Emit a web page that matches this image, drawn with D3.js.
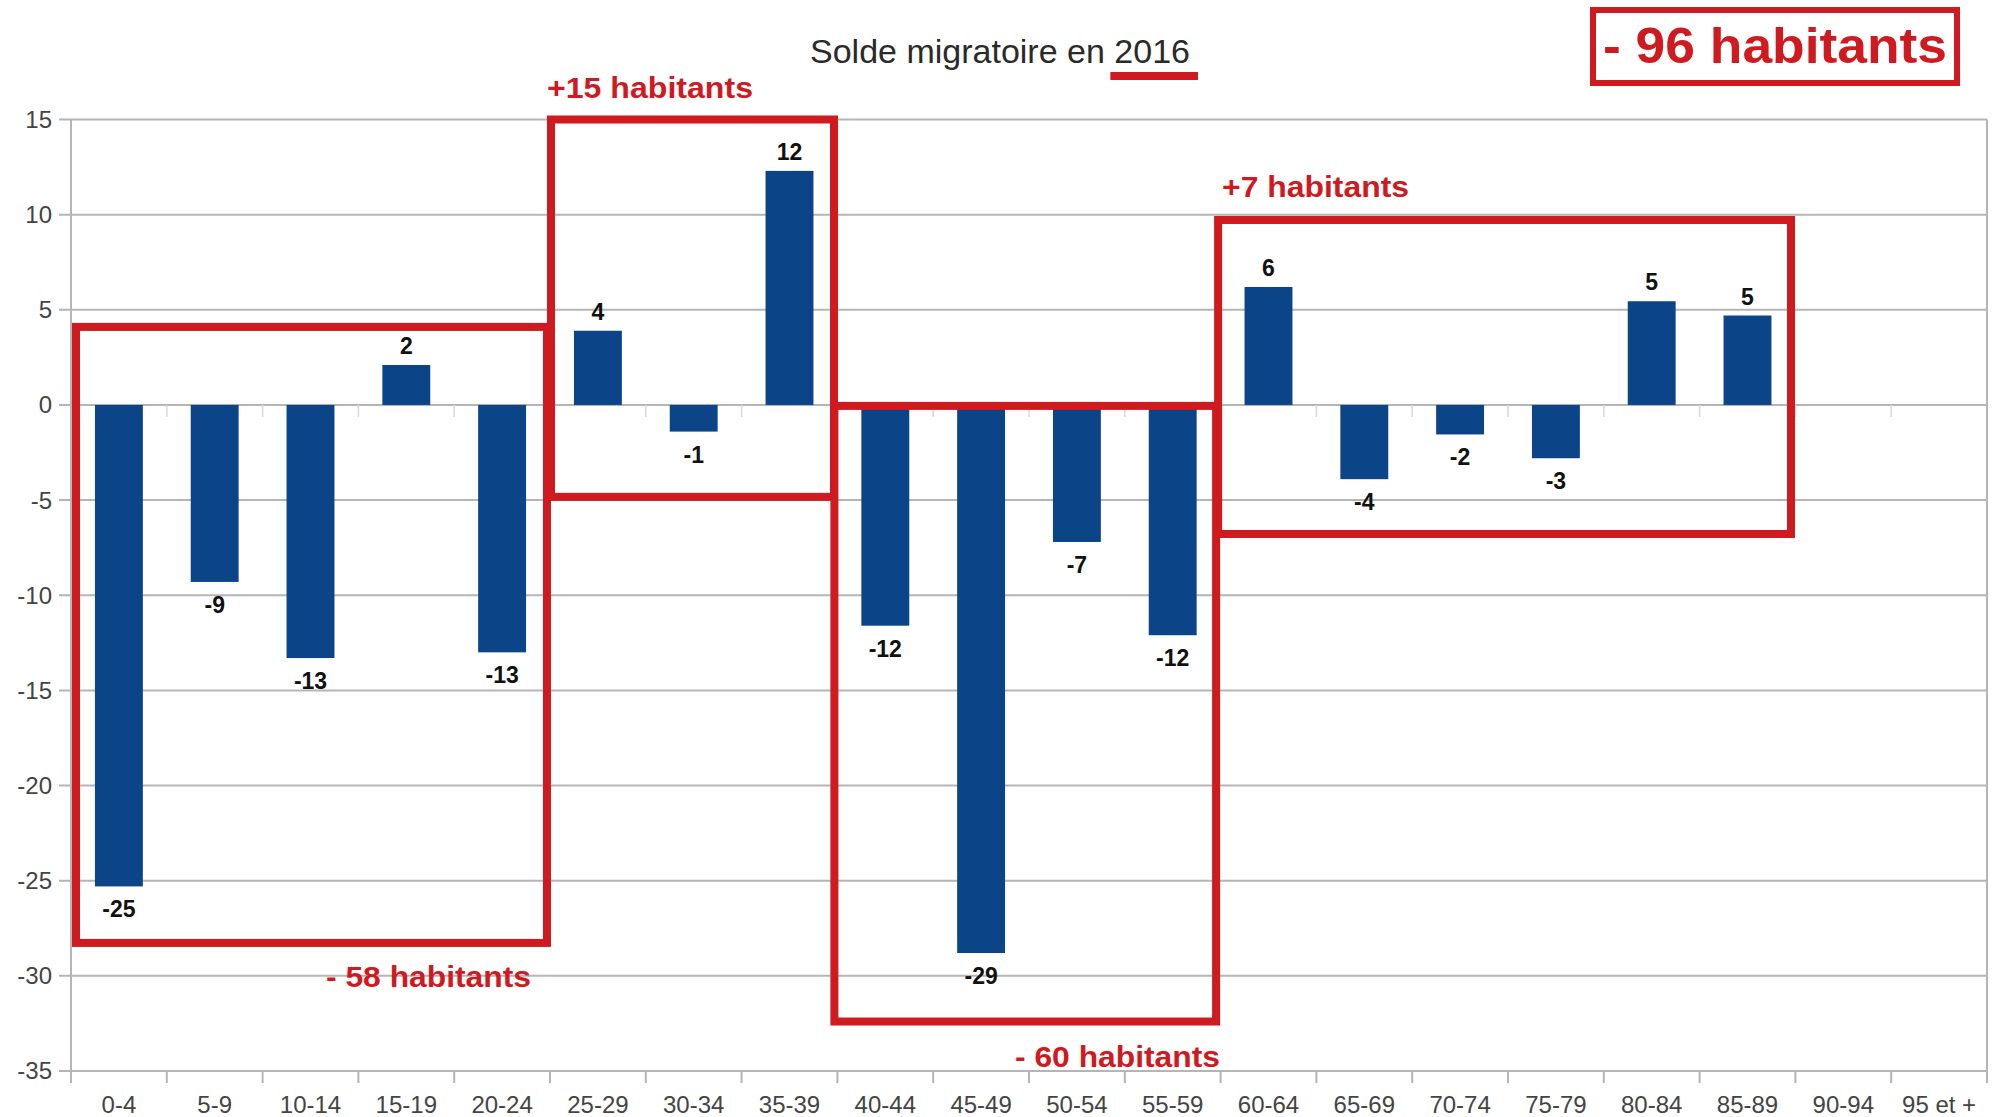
<!DOCTYPE html>
<html><head><meta charset="utf-8">
<script src="https://cdn.jsdelivr.net/npm/d3@7"></script>
<style>html,body{margin:0;padding:0;background:#fff;}svg{display:block;}</style>
</head><body>
<svg id="chart" width="2000" height="1117"></svg>
<script>
// ---- data ----
const categories = ["0-4","5-9","10-14","15-19","20-24","25-29","30-34","35-39","40-44","45-49","50-54","55-59","60-64","65-69","70-74","75-79","80-84","85-89","90-94","95 et +"];
const values = [-25.3,-9.3,-13.3,2.1,-13.0,3.9,-1.4,12.3,-11.6,-28.8,-7.2,-12.1,6.2,-3.9,-1.55,-2.8,5.45,4.7,0,0];
const yTicks = [15,10,5,0,-5,-10,-15,-20,-25,-30,-35];
const titleText = "Solde migratoire en ";
const titleYear = "2016";
// group annotations: band boundary indices and value extents
const groupFrom = [0,5,8,12];
const groupTo = [5,8,12,18];
const groupTop = [4.1,15,-0.05,9.72];
const groupBottom = [-28.27,-4.83,-32.4,-6.78];
const groupLabels = ["- 58 habitants","+15 habitants","- 60 habitants","+7 habitants"];
const totalLabel = "- 96 habitants";

// ---- layout ----
const plotL = 71, plotR = 1987, plotT = 119.5, plotB = 1071;
const RED = "#cf1a1f", BLUE = "#0b4587", GRID = "#b5b5b5";
const FONT = "Liberation Sans, Arial, sans-serif";

const svg = d3.select("#chart");
const x = d3.scaleBand().domain(categories).range([plotL, plotR]).paddingInner(0.5).paddingOuter(0.25);
const y = d3.scaleLinear().domain([-35, 15]).range([plotB, plotT]);
const edge = i => plotL + i * x.step();

// gridlines
svg.append("g").selectAll("line").data(yTicks).join("line")
  .attr("x1", plotL - 12).attr("x2", plotR)
  .attr("y1", d => y(d)).attr("y2", d => y(d))
  .attr("stroke", GRID).attr("stroke-width", 2);

// vertical frame lines
svg.append("line").attr("x1", plotL).attr("x2", plotL).attr("y1", plotT).attr("y2", plotB + 12)
  .attr("stroke", GRID).attr("stroke-width", 2);
svg.append("line").attr("x1", plotR).attr("x2", plotR).attr("y1", plotT).attr("y2", plotB + 12)
  .attr("stroke", GRID).attr("stroke-width", 2);

// x-axis ticks at band boundaries (bottom)
const bounds = d3.range(categories.length + 1);
svg.append("g").selectAll("line").data(bounds).join("line")
  .attr("x1", d => edge(d)).attr("x2", d => edge(d))
  .attr("y1", plotB).attr("y2", plotB + 12)
  .attr("stroke", GRID).attr("stroke-width", 2);
// faint ticks at zero line
svg.append("g").selectAll("line").data(bounds.slice(1, -1)).join("line")
  .attr("x1", d => edge(d)).attr("x2", d => edge(d))
  .attr("y1", y(0)).attr("y2", y(0) + 12)
  .attr("stroke", "#d8d8d8").attr("stroke-width", 1.5);

// y tick labels
svg.append("g").selectAll("text").data(yTicks).join("text")
  .attr("x", 52).attr("y", d => y(d))
  .attr("dy", "0.35em").attr("text-anchor", "end")
  .attr("font-family", FONT).attr("font-size", 24)
  .attr("fill", "#444").text(d => d);

// x tick labels
svg.append("g").selectAll("text").data(categories).join("text")
  .attr("x", d => x(d) + x.bandwidth() / 2).attr("y", 1113)
  .attr("text-anchor", "middle")
  .attr("font-family", FONT).attr("font-size", 24)
  .attr("fill", "#444").text(d => d);

// bars
const data = categories.map((c, i) => ({c, v: values[i]}));
svg.append("g").selectAll("rect").data(data).join("rect")
  .attr("x", d => x(d.c)).attr("width", x.bandwidth())
  .attr("y", d => y(Math.max(0, d.v)))
  .attr("height", d => Math.abs(y(d.v) - y(0)))
  .attr("fill", BLUE);

// data labels
svg.append("g").selectAll("text").data(data.filter(d => d.v !== 0)).join("text")
  .attr("x", d => x(d.c) + x.bandwidth() / 2)
  .attr("y", d => d.v > 0 ? y(d.v) - 11 : y(d.v) + 31)
  .attr("text-anchor", "middle")
  .attr("font-family", FONT).attr("font-weight", "bold")
  .attr("font-size", 23).attr("fill", "#111")
  .text(d => Math.round(d.v));

// title
const title = svg.append("text").attr("x", 1000).attr("y", 63).attr("text-anchor", "middle")
  .attr("font-family", FONT).attr("font-size", 34).attr("fill", "#2a2a2a");
title.append("tspan").text(titleText);
title.append("tspan").attr("id", "yr").text(titleYear);
// underline under the year
const yrNode = document.getElementById("yr");
let yb;
try { const ext = yrNode.getExtentOfChar(0); const ext2 = yrNode.getExtentOfChar(titleYear.length - 1);
  yb = {x0: ext.x, x1: ext2.x + ext2.width}; } catch (e) { yb = {x0: 1105, x1: 1199}; }
svg.append("line").attr("x1", yb.x0 - 4).attr("x2", yb.x1 + 8).attr("y1", 76).attr("y2", 76)
  .attr("stroke", RED).attr("stroke-width", 8);

// group boxes
const boxInsetL = [5, 1, -3, -2.5];
const boxInsetR = [-3, -3.4, -4.5, -4.4];
const boxes = groupFrom.map((f, i) => ({
  x0: edge(f) + boxInsetL[i], x1: edge(groupTo[i]) + boxInsetR[i],
  y0: y(groupTop[i]), y1: y(groupBottom[i])
}));
svg.append("g").selectAll("rect").data(boxes).join("rect")
  .attr("x", d => d.x0).attr("y", d => d.y0)
  .attr("width", d => d.x1 - d.x0).attr("height", d => d.y1 - d.y0)
  .attr("fill", "none").attr("stroke", RED).attr("stroke-width", 8);

// group labels
const lbl = [
  {t: groupLabels[0], x: 531, y: 987, anchor: "end", w: 205},
  {t: groupLabels[1], x: 547, y: 98, anchor: "start", w: 206},
  {t: groupLabels[2], x: 1220, y: 1067, anchor: "end", w: 205},
  {t: groupLabels[3], x: 1222, y: 197, anchor: "start", w: 187}
];
svg.append("g").selectAll("text").data(lbl).join("text")
  .attr("x", d => d.x).attr("y", d => d.y).attr("text-anchor", d => d.anchor)
  .attr("font-family", FONT).attr("font-weight", "bold").attr("font-size", 30)
  .attr("fill", RED)
  .attr("textLength", d => d.w).attr("lengthAdjust", "spacingAndGlyphs")
  .text(d => d.t);

// total box
svg.append("rect").attr("x", 1593).attr("y", 10).attr("width", 364).attr("height", 73)
  .attr("fill", "none").attr("stroke", RED).attr("stroke-width", 6);
svg.append("text").attr("x", 1603).attr("y", 63)
  .attr("font-family", FONT).attr("font-weight", "bold").attr("font-size", 50)
  .attr("fill", RED).attr("textLength", 344).attr("lengthAdjust", "spacingAndGlyphs")
  .text(totalLabel);
</script>
</body></html>
